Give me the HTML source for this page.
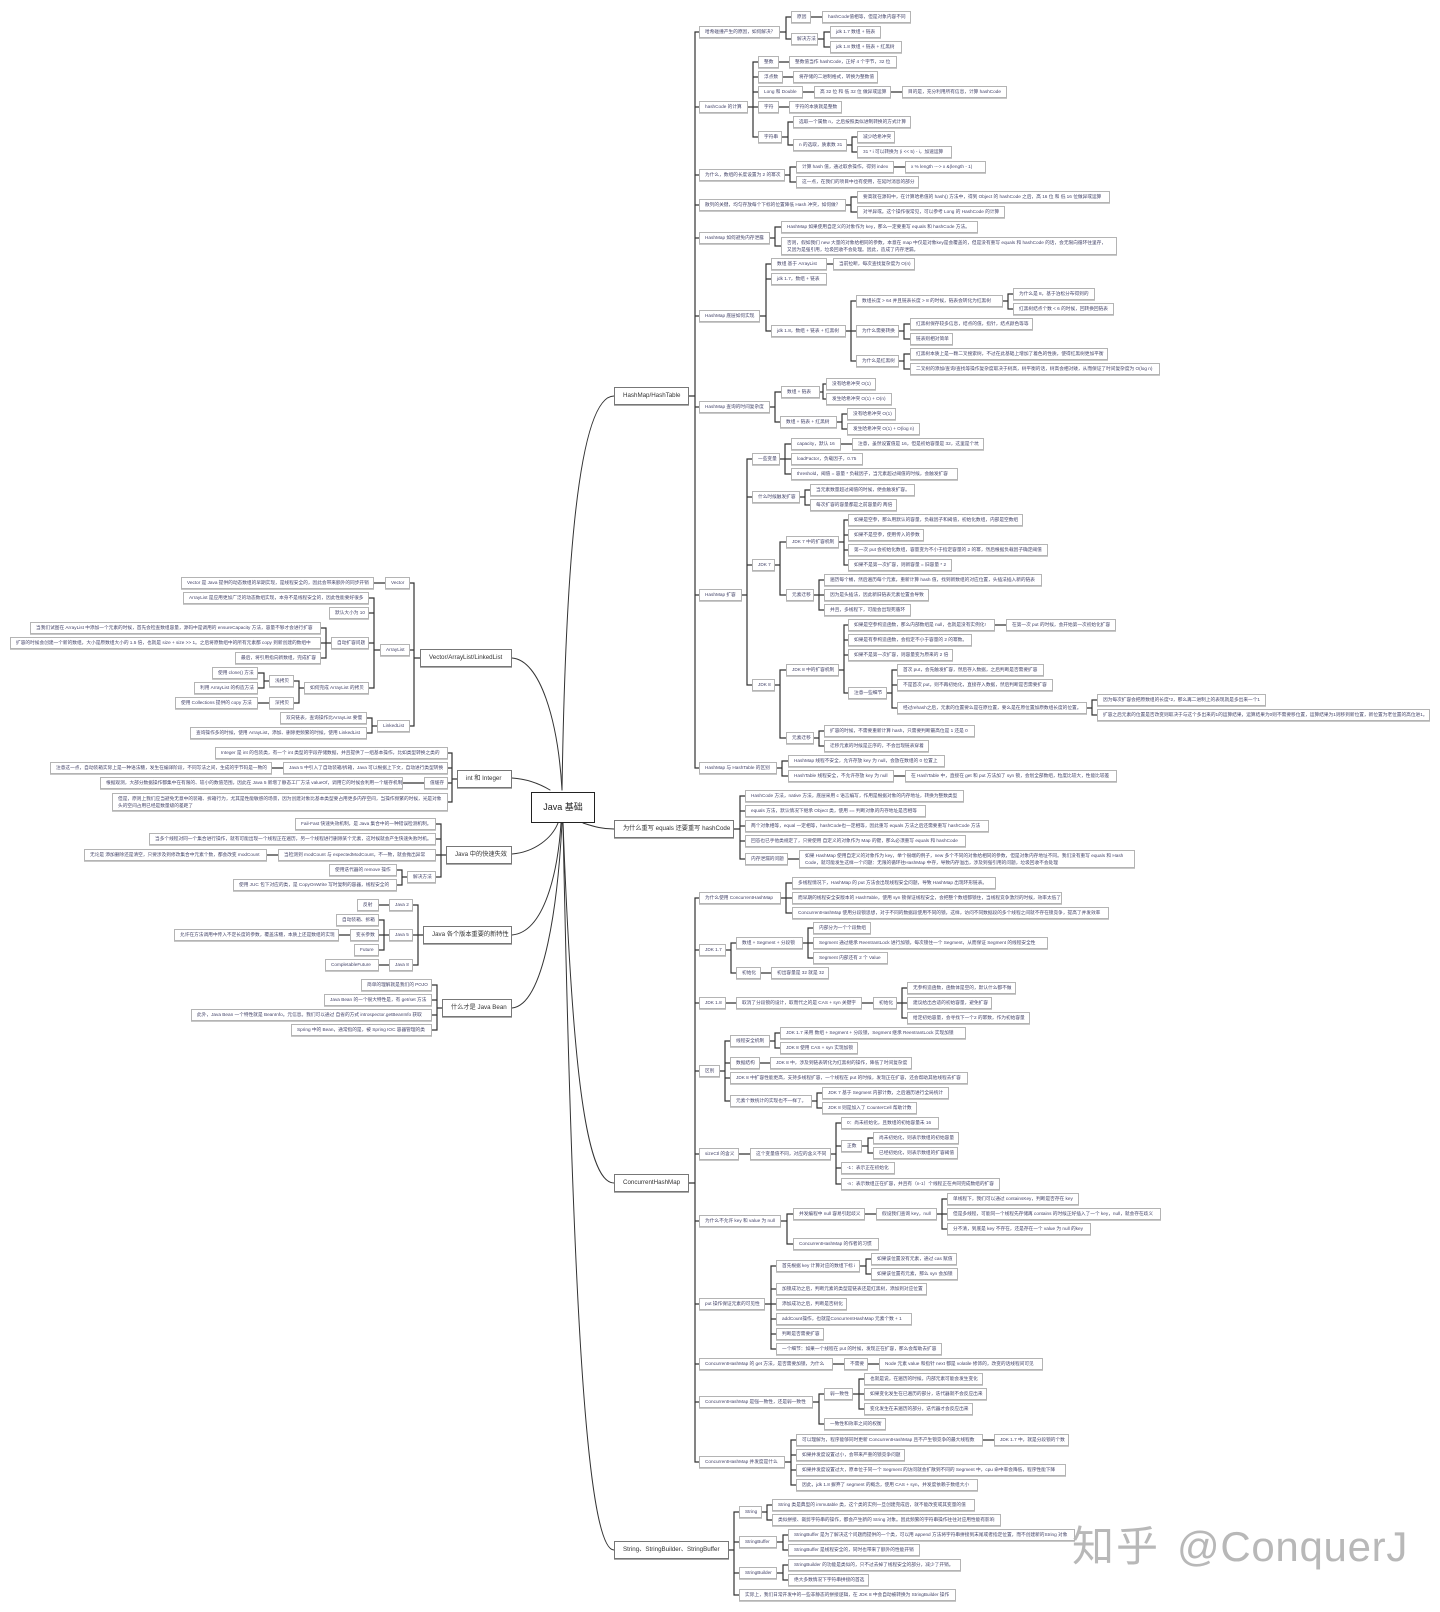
<!DOCTYPE html>
<html lang="zh"><head><meta charset="utf-8"><title>Java 基础</title>
<style>
html,body{margin:0;padding:0;background:#fff}
#w{position:relative;width:1440px;height:1612px;overflow:hidden;background:#fff;font-family:"Liberation Sans","Noto Sans CJK SC",sans-serif;filter:blur(.3px)}
svg{position:absolute;left:0;top:0}
i,b,u{position:absolute;display:block;box-sizing:border-box;background:#fff;font-style:normal;font-weight:400;text-decoration:none;white-space:nowrap;overflow:hidden}
i{height:12px;line-height:10px;font-size:4.7px;padding-left:5px;color:#45456a;border:1px solid #b4b4b4;box-shadow:0 1px 0 #c8c8c8}
i.t{height:18px;line-height:6.5px;padding-top:2px}
b{height:18px;line-height:16px;font-size:6.2px;padding-left:8px;color:#333;border:1px solid #777;box-shadow:0 1px 0 #aaa}
u{left:531px;top:792px;width:64px;height:31px;line-height:29px;font-size:9px;text-align:center;color:#222;border:1px solid #222}
.m{position:absolute;top:1519px;line-height:56px;color:#b8b8b8;white-space:nowrap}
</style></head><body><div id="w">
<svg width="1440" height="1612" fill="none" stroke-linecap="round">
<g stroke="#333" stroke-width="1">
<path d="M614 396C575 396 565 600 562 790"/>
<path d="M614 829C603 829 595 827 583 823"/>
<path d="M563 823C572 1060 585 1183 614 1183"/>
<path d="M563 823C572 1270 585 1550 614 1550"/>
<path d="M512 658C540 660 558 720 562 790"/>
<path d="M512 778C528 779 540 784 550 790"/>
<path d="M512 854C535 852 552 838 558 823"/>
<path d="M512 935C545 932 558 870 561 823"/>
<path d="M512 1008C545 1005 558 900 562 823"/>
</g>
<path stroke="#333" stroke-width="1.2" d="
M689 396H695M699 32H695V768H699M695 107h4M695 175h4M695 205h4M695 238h4M695 316h4M695 407h4M695 595h4
M780 32H786M791 17H786V39H791M818 39H824M830 32H824V47H830M811 17H822
M748 107H753M758 62H753V137H758M753 77h5M753 92h5M753 107h5M779 62H789M783 77H793M803 92H814M891 92H902M779 107H789
M782 137H788M793 122H788V145H793M847 145H852M857 137H852V152H857
M785 175H790M796 167H790V182H796M894 167H905
M846 205H851M857 197H851V212H857
M770 238H775M781 227H775V246H781
M760 316H766M771 264H766V331H771M766 279h5M827 264H833
M846 331H851M856 301H851V361H856M851 331h5
M1003 301H1008M1013 294H1008V309H1013
M899 331H904M910 324H904V339H910M899 361H904M910 354H904V369H910
M770 407H775M781 392H775V422H780M820 392H823M826 384H823V399H826M837 422H842M847 414H842V429H847
M742 595H747M752 459H747V685H752M747 497h5M747 565h5
M780 459H785M791 444H785V474H791M785 459h6M841 444H852
M800 497H805M810 490H805V505H810
M775 565H780M786 542H780V595H786
M839 542H844M848 520H844V565H848M844 535h4M844 550h4
M814 595H819M824 580H819V610H824M819 595h5
M775 685H780M786 670H780V738H786
M839 670H844M848 625H844V693H848M844 640h4M844 655h4M995 625H1006
M887 693H892M897 670H892V708H897M892 685h5
M1087 708H1092M1097 700H1092V715H1097
M814 738H819M824 731H819V746H824
M777 768H782M788 761H782V776H788M894 776H905
M734 829H740M745 796H740V859H745M740 811h5M740 826h5M740 841h5M788 859H799
M689 1183H695M699 898H695V1462H699M695 950h4M695 1003h4M695 1071h4M695 1154h4M695 1221h4M695 1304h4M695 1364h4M695 1402h4
M781 898H786M792 883H786V913H792M786 898h6
M726 950H731M736 943H731V973H736M803 943H808M813 928H808V958H813M808 943h5M761 973H771
M726 1003H736M862 1003H873M897 1003H902M907 988H902V1018H907M902 1003h5
M720 1071H725M730 1041H725V1101H730M725 1063h5M725 1078h5
M770 1041H775M780 1033H775V1048H780M760 1063H770M812 1101H817M822 1093H817V1108H822
M739 1154H750M831 1154H836M841 1123H836V1184H841M836 1146h5M836 1168h5M862 1146H868M873 1138H868V1153H873
M781 1221H787M793 1214H787V1244H793M865 1214H876M937 1214H942M947 1199H942V1229H947M942 1214h5
M765 1304H771M776 1266H771V1349H776M771 1289h5M771 1304h5M771 1319h5M771 1334h5M860 1266H866M871 1259H866V1274H871
M833 1364H844M868 1364H879
M813 1402H819M824 1394H819V1424H824M853 1394H859M864 1379H859V1409H864M859 1394h5
M785 1462H791M796 1440H791V1485H796M791 1455h5M791 1470h5M983 1440H994
M729 1550H734M739 1512H734V1595H739M734 1542h5M734 1573h5
M762 1512H767M772 1505H767V1520H772M777 1542H783M788 1535H783V1550H788M777 1573H783M788 1565H783V1580H788
M420 658H414M410 583H414V726H410M414 650h-4M385 583H374
M380 650H374M369 598H374V688H369M374 613h-5M374 643h-5
M331 643H326M321 628H326V658H321M326 643h-5
M304 688H299M294 681H299V703H294M269 681H264M258 673H264V688H258M269 703H258
M377 726H372M367 718H372V733H367
M457 779H452M448 753H452V802H448M452 768h-4M452 783h-4M283 768H272M424 783H403
M446 855H441M436 824H441V877H436M441 839h-5M441 855h-5M278 855H267M407 877H402M397 870H402V885H397
M423 935H418M413 905H418V965H413M418 935h-5M389 905H379M389 965H379M389 935H384M379 920H384V950H379M384 935h-5M350 935H339
M442 1008H437M432 985H437V1030H432M437 1000h-5M437 1015h-5"/>
</svg>

<u>Java 基础</u>
<b style="left:614px;top:387px;width:75px">HashMap/HashTable</b>
<b style="left:614px;top:820px;width:120px">为什么重写 equals 还要重写 hashCode</b>
<b style="left:614px;top:1174px;width:75px">ConcurrentHashMap</b>
<b style="left:614px;top:1541px;width:115px">String、StringBuilder、StringBuffer</b>
<b style="left:420px;top:649px;width:92px">Vector/ArrayList/LinkedList</b>
<b style="left:457px;top:770px;width:55px">int 和 Integer</b>
<b style="left:446px;top:846px;width:66px">Java 中的快速失效</b>
<b style="left:423px;top:926px;width:89px">Java 各个版本重要的新特性</b>
<b style="left:442px;top:999px;width:70px">什么才是 Java Bean</b>

<i style="left:699px;top:26px;width:81px">哈希碰撞产生的原因，如何解决？</i>
<i style="left:791px;top:11px;width:20px">原因</i>
<i style="left:822px;top:11px;width:89px">hashCode值相等，但是对象内容不同</i>
<i style="left:791px;top:33px;width:27px">解决方法</i>
<i style="left:830px;top:26px;width:51px">jdk 1.7 数组 + 链表</i>
<i style="left:830px;top:41px;width:72px">jdk 1.8 数组 + 链表 + 红黑树</i>
<i style="left:699px;top:101px;width:49px">hashCode 的计算</i>
<i style="left:758px;top:56px;width:21px">整数</i>
<i style="left:789px;top:56px;width:108px">整数值当作 hashCode，正好 4 个字节，32 位</i>
<i style="left:758px;top:71px;width:25px">浮点数</i>
<i style="left:793px;top:71px;width:85px">将存储的二进制格式，转换为整数值</i>
<i style="left:758px;top:86px;width:45px">Long 和 Double</i>
<i style="left:814px;top:86px;width:77px">高 32 位 和 低 32 位 做异或运算</i>
<i style="left:902px;top:86px;width:105px">目的是，充分利用所有信息，计算 hashCode</i>
<i style="left:758px;top:101px;width:21px">字符</i>
<i style="left:789px;top:101px;width:53px">字符的本质就是整数</i>
<i style="left:758px;top:131px;width:24px">字符串</i>
<i style="left:793px;top:116px;width:118px">选取一个属数 n，之后按照类似进制转换的方式计算</i>
<i style="left:793px;top:139px;width:54px">n 的选取，质素数 31</i>
<i style="left:857px;top:131px;width:38px">减少哈希冲突</i>
<i style="left:857px;top:146px;width:95px">31 * i 可以转换为 (i &lt;&lt; 5) - i，加速运算</i>
<i style="left:699px;top:169px;width:86px">为什么，数组的长度设置为 2 的幂次</i>
<i style="left:796px;top:161px;width:98px">计算 hash 值，通过取余操作，得到 index</i>
<i style="left:905px;top:161px;width:81px">x % length ---&gt; x &amp;(length - 1)</i>
<i style="left:796px;top:176px;width:123px">这一点，在我们的项目中也有使用，在延时消息的部分</i>
<i style="left:699px;top:199px;width:147px">散列的关键，均匀存放每个下标的位置降低 Hash 冲突，如何做？</i>
<i style="left:857px;top:191px;width:253px">要高就在源码中，在计算哈希值的 hash() 方法中，得到 Object 的 hashCode 之后，高 16 位 和 低 16 位做异或运算</i>
<i style="left:857px;top:206px;width:148px">对半异或。这个操作很常见，可以参考 Long 的 HashCode 的计算</i>
<i style="left:699px;top:232px;width:71px">HashMap 如何避免内存泄露</i>
<i style="left:781px;top:221px;width:197px">HashMap 如果使用自定义的对象作为 key，那么一定要重写 equals 和 hashCode 方法。</i>
<i class="t" style="left:781px;top:237px;width:336px">否则，假如我们 new 大量的对象给相同的参数，本意在 map 中仅是对象key是会覆盖的，但是没有重写 equals 和 hashCode 的话，会无限向循环往里存，<br>又因为是强引用，垃圾回收不会处理。因此，造成了内存泄漏。</i>
<i style="left:699px;top:310px;width:61px">HashMap 底层如何实现</i>
<i style="left:771px;top:258px;width:56px">数组 基于 ArrayList</i>
<i style="left:833px;top:258px;width:82px">当前拉断，每次查找复杂度为 O(n)</i>
<i style="left:771px;top:273px;width:56px">jdk 1.7，数组 + 链表</i>
<i style="left:771px;top:325px;width:75px">jdk 1.8，数组 + 链表 + 红黑树</i>
<i style="left:856px;top:295px;width:147px">数组长度 &gt; 64 并且链表长度 &gt; 8 的时候，链表会转化为红黑树</i>
<i style="left:1013px;top:288px;width:82px">为什么是 8，基于泊松分布得到的</i>
<i style="left:1013px;top:303px;width:101px">红黑树结点个数 &lt; 6 的时候，回转换回链表</i>
<i style="left:856px;top:325px;width:43px">为什么需要转换</i>
<i style="left:910px;top:318px;width:123px">红黑树保存较多信息，结点的值，指针，结点颜色等等</i>
<i style="left:910px;top:333px;width:43px">链表则相对简单</i>
<i style="left:856px;top:355px;width:43px">为什么是红黑树</i>
<i style="left:910px;top:348px;width:198px">红黑树本质上是一颗二叉搜索树，不过在此基础上增加了着色的性质，使得红黑树更加平衡</i>
<i style="left:910px;top:363px;width:250px">二叉树的添加/查询/查找等操作复杂度取决于树高，树平衡的话，树高会相对矮，从而保证了时间复杂度为 O(log n)</i>
<i style="left:699px;top:401px;width:71px">HashMap 查询的时间复杂度</i>
<i style="left:781px;top:386px;width:39px">数组 + 链表</i>
<i style="left:826px;top:378px;width:50px">没有哈希冲突 O(1)</i>
<i style="left:826px;top:393px;width:66px">发生哈希冲突 O(1) + O(n)</i>
<i style="left:780px;top:416px;width:57px">数组 + 链表 + 红黑树</i>
<i style="left:847px;top:408px;width:49px">没有哈希冲突 O(1)</i>
<i style="left:847px;top:423px;width:73px">发生哈希冲突 O(1) + O(log n)</i>
<i style="left:699px;top:589px;width:43px">HashMap 扩容</i>
<i style="left:752px;top:453px;width:28px">一些变量</i>
<i style="left:791px;top:438px;width:50px">capacity，默认 16</i>
<i style="left:852px;top:438px;width:132px">注意，虽然设置值是 16，但是初始容量是 32，这里是个坑</i>
<i style="left:791px;top:453px;width:72px">loadFactor，负载因子，0.75</i>
<i style="left:791px;top:468px;width:167px">threshold，阈值 = 容量 * 负载因子，当元素超过阈值的时候，会触发扩容</i>
<i style="left:752px;top:491px;width:48px">什么时候触发扩容</i>
<i style="left:810px;top:484px;width:105px">当元素数量超过阈值的时候，便会触发扩容。</i>
<i style="left:810px;top:499px;width:87px">每次扩容的容量都是之前容量的 两倍</i>
<i style="left:752px;top:559px;width:23px">JDK 7</i>
<i style="left:786px;top:536px;width:53px">JDK 7 中的扩容机制</i>
<i style="left:848px;top:514px;width:175px">如果是空参，那么用默认的容量，负载因子和阈值，初始化数组，内部是空数组</i>
<i style="left:848px;top:529px;width:76px">如果不是空参，使用传入的参数</i>
<i style="left:848px;top:544px;width:200px">第一次 put 会初始化数组，容量变为不小于指定容量的 2 的幂，然后根据负载因子确定阈值</i>
<i style="left:848px;top:559px;width:104px">如果不是第一次扩容，则新容量 = 旧容量 * 2</i>
<i style="left:786px;top:589px;width:28px">元素迁移</i>
<i style="left:824px;top:574px;width:218px">遍历每个桶，然后遍历每个元素，重新计算 hash 值，找到新数组的对应位置，头插法插入新的链表</i>
<i style="left:824px;top:589px;width:105px">因为是头插法，因此新旧链表元素位置会导致</i>
<i style="left:824px;top:604px;width:87px">并且，多线程下，可能会出现死循环</i>
<i style="left:752px;top:679px;width:23px">JDK 8</i>
<i style="left:786px;top:664px;width:53px">JDK 8 中的扩容机制</i>
<i style="left:848px;top:619px;width:147px">如果是空参构造函数，那么内部数组是 null，也就是没有实例化!</i>
<i style="left:1006px;top:619px;width:110px">在第一次 put 的时候，会开始第一次初始化扩容</i>
<i style="left:848px;top:634px;width:124px">如果是有参构造函数，会指定不小于容量的 2 的幂数。</i>
<i style="left:848px;top:649px;width:105px">如果不是第一次扩容，则容量变为原来的 2 倍</i>
<i style="left:848px;top:687px;width:39px">注意一些细节</i>
<i style="left:897px;top:664px;width:147px">首次 put，会先触发扩容，然后存入数据，之后判断是否需要扩容</i>
<i style="left:897px;top:679px;width:156px">不是首次 put，则不再初始化，直接存入数据，然后判断是否需要扩容</i>
<i style="left:897px;top:702px;width:190px">经过rehash之后，元素的位置要么是在原位置，要么是在原位置加原数组长度的位置。</i>
<i style="left:1097px;top:694px;width:169px">因为每次扩容会把原数组的长度*2，那么再二进制上的表现就是多出来一个1</i>
<i style="left:1097px;top:709px;width:333px">扩容之后元素的位置是否改变则取决于与这个多出来的1的运算结果，运算结果为0则不需要移位置，运算结果为1则移到新位置，新位置为老位置的高位进1。</i>
<i style="left:786px;top:732px;width:28px">元素迁移</i>
<i style="left:824px;top:725px;width:151px">扩容的时候，不需要重新计算 hash，只需要判断最高位是 1 还是 0</i>
<i style="left:824px;top:740px;width:105px">迁移元素的时候是正序的，不会出现链表穿着</i>
<i style="left:699px;top:762px;width:78px">HashMap 与 HashTable 的区别</i>
<i style="left:788px;top:755px;width:157px">HashMap 线程不安全，允许存放 key 为 null，会放在数组的 0 位置上</i>
<i style="left:788px;top:770px;width:106px">HashTable 线程安全，不允许存放 key 为 null</i>
<i style="left:905px;top:770px;width:212px">在 HashTable 中，直接在 get 和 put 方法加了 syn 锁，会划全部数组，粒度比较大，性能比较差</i>

<i style="left:745px;top:790px;width:219px">HashCode 方法，native 方法，底层采用 c 语言编写，作用是根据对象的内存地址，转换为整数类型</i>
<i style="left:745px;top:805px;width:181px">equals 方法，默认情况下继承 Object 类，使用 == 判断对象的内存地址是否相等</i>
<i style="left:745px;top:820px;width:244px">两个对象相等，equal 一定相等，hashCode也一定相等，因此重写 equals 方法之后还需要重写 hashCode 方法</i>
<i style="left:745px;top:835px;width:221px">回答也已手他类规定了，只要使用 自定义的对象作为 Map 的键，那么必须重写 equals 和 hashCode</i>
<i style="left:745px;top:853px;width:43px">内存泄漏的问题</i>
<i class="t" style="left:799px;top:850px;width:336px">如果 HashMap 使用自定义的对象作为 key，举个很端的例子，new 多个不同的对象给相同的参数，但是对象内存地址不同。我们没有重写 equals 和 Hash<br>Code，就可能发生这样一个问题：无限的循环往HashMap 中存，导致内存溢出，涉及到强引用的问题，垃圾回收不会处理</i>

<i style="left:699px;top:892px;width:82px">为什么使用 ConcurrentHashMap</i>
<i style="left:792px;top:877px;width:204px">多线程情况下，HashMap 的 put 方法会出现线程安全问题，导致 HashMap 出现环形链表。</i>
<i style="left:792px;top:892px;width:270px">而早期的线程安全安版本的 HashTable，使用 syn 锁保证线程安全，会把整个数组都锁住，当线程竞争激烈的时候，效率太低了</i>
<i style="left:792px;top:907px;width:317px">ConcurrentHashMap 使用分段锁思想，对于不同的数据段使用不同的锁，这样，访问不同数据段的多个线程之间就不存在锁竞争，提高了并发效率</i>
<i style="left:699px;top:944px;width:27px">JDK 1.7</i>
<i style="left:736px;top:937px;width:67px">数组 + Segment + 分段锁</i>
<i style="left:813px;top:922px;width:58px">内部分为一个个段数组</i>
<i style="left:813px;top:937px;width:235px">Segment 通过继承 ReentrantLock 进行加锁，每次锁住一个 Segment，从而保证 Segment 的线程安全性</i>
<i style="left:813px;top:952px;width:75px">Segment 内部还有 2 个 Value</i>
<i style="left:736px;top:967px;width:25px">初始化</i>
<i style="left:771px;top:967px;width:58px">初出容量是 32 就是 32</i>
<i style="left:699px;top:997px;width:27px">JDK 1.8</i>
<i style="left:736px;top:997px;width:126px">取消了分段锁的设计，取而代之的是 CAS + syn 关键字</i>
<i style="left:873px;top:997px;width:24px">初始化</i>
<i style="left:907px;top:982px;width:109px">无参构造函数，函数体是空的，默认什么都不做</i>
<i style="left:907px;top:997px;width:85px">建议给出合适的初始容量，避免扩容</i>
<i style="left:907px;top:1012px;width:123px">给定初始容量，会寻找下一个2 的幂数，作为初始容量</i>
<i style="left:699px;top:1065px;width:21px">区别</i>
<i style="left:730px;top:1035px;width:40px">线程安全机制</i>
<i style="left:780px;top:1027px;width:186px">JDK 1.7 采用 数组 + Segment + 分段锁，Segment 继承 ReentrantLock 实现加锁</i>
<i style="left:780px;top:1042px;width:78px">JDK 8 使用 CAS + syn 实现加锁</i>
<i style="left:730px;top:1057px;width:30px">数据结构</i>
<i style="left:770px;top:1057px;width:142px">JDK 8 中，涉及到链表转化为红黑树的操作，降低了时间复杂度</i>
<i style="left:730px;top:1072px;width:238px">JDK 8 中扩容性能更高，支持多线程扩容，一个线程在 put 的时候，发现正在扩容，还会帮助其他线程去扩容</i>
<i style="left:730px;top:1095px;width:82px">元素个数统计的实现也不一样了。</i>
<i style="left:822px;top:1087px;width:127px">JDK 7 基于 Segment 内部计数，之后遍历进行全局统计</i>
<i style="left:822px;top:1102px;width:95px">JDK 8 则是加入了 CounterCell 帮助计数</i>
<i style="left:699px;top:1148px;width:40px">sizeCtl 的含义</i>
<i style="left:750px;top:1148px;width:81px">这个变量值不同，对应的含义不同</i>
<i style="left:841px;top:1117px;width:98px">0：尚未初始化，且数组的初始容量未 16</i>
<i style="left:841px;top:1140px;width:21px">正数</i>
<i style="left:873px;top:1132px;width:86px">尚未初始化，则表示数组的初始容量</i>
<i style="left:873px;top:1147px;width:85px">已经初始化，则表示数组的扩容阈值</i>
<i style="left:841px;top:1162px;width:54px">-1：表示正在初始化</i>
<i style="left:841px;top:1178px;width:159px">-n：表示数组正在扩容，并且有（n-1）个线程正在共同完成数组的扩容</i>
<i style="left:699px;top:1215px;width:82px">为什么不允许 key 和 value 为 null</i>
<i style="left:793px;top:1208px;width:72px">并发编程中 null 容易引起歧义</i>
<i style="left:876px;top:1208px;width:61px">假设我们查询 key，null</i>
<i style="left:947px;top:1193px;width:132px">单线程下，我们可以通过 containsKey，判断是否存在 key</i>
<i style="left:947px;top:1208px;width:214px">但是多线程，可能同一个线程先存储再 contains 的时候正好插入了一个 key，null，就会存在歧义</i>
<i style="left:947px;top:1223px;width:144px">分不清，到底是 key 不存在，还是存在一个 value 为 null 的key</i>
<i style="left:793px;top:1238px;width:86px">ConcurrentHashMap 的作者的习惯</i>
<i style="left:699px;top:1298px;width:66px">put 操作保证元素的可见性</i>
<i style="left:776px;top:1260px;width:84px">首先根据 key 计算对应的数组下标 i</i>
<i style="left:871px;top:1253px;width:86px">如果该位置没有元素，通过 cas 赋值</i>
<i style="left:871px;top:1268px;width:87px">如果该位置有元素，那么 syn 会加锁</i>
<i style="left:776px;top:1283px;width:151px">加锁成功之后，判断元素的类型是链表还是红黑树，添加到对应位置</i>
<i style="left:776px;top:1298px;width:71px">添加成功之后，判断是否树化</i>
<i style="left:776px;top:1313px;width:136px">addCount操作，也就是ConcurrentHashMap 元素个数 + 1</i>
<i style="left:776px;top:1328px;width:48px">判断是否需要扩容</i>
<i style="left:776px;top:1343px;width:166px">一个细节：如果一个线程在 put 的时候，发现正在扩容，那么会帮助去扩容</i>
<i style="left:699px;top:1358px;width:134px">ConcurrentHashMap 的 get 方法，是否需要加锁，为什么</i>
<i style="left:844px;top:1358px;width:24px">不需要</i>
<i style="left:879px;top:1358px;width:164px">Node 元素 value 和指针 next 都是 volatile 修饰的，改变的话线程间可见</i>
<i style="left:699px;top:1396px;width:114px">ConcurrentHashMap 是强一致性，还是弱一致性</i>
<i style="left:824px;top:1388px;width:29px">弱一致性</i>
<i style="left:864px;top:1373px;width:119px">也就是说，在遍历的时候，内部元素可能会发生变化</i>
<i style="left:864px;top:1388px;width:123px">如果变化发生在已遍历的部分，迭代器就不会反应出来</i>
<i style="left:864px;top:1403px;width:109px">变化发生在未遍历的部分，迭代器才会反应出来</i>
<i style="left:824px;top:1418px;width:62px">一致性和效率之间的权衡</i>
<i style="left:699px;top:1456px;width:86px">ConcurrentHashMap 并发度是什么</i>
<i style="left:796px;top:1434px;width:187px">可以理解为，程序能够同时更新 ConcurrentHashMap 且不产生锁竞争的最大线程数</i>
<i style="left:994px;top:1434px;width:75px">JDK 1.7 中，就是分段锁的个数</i>
<i style="left:796px;top:1449px;width:109px">如果并发度设置过小，会带来严重的锁竞争问题</i>
<i style="left:796px;top:1464px;width:270px">如果并发度设置过大，原本位于同一个 Segment 的访问就会扩散到不同的 Segment 中，cpu 命中率会降低，程序性能下降</i>
<i style="left:796px;top:1479px;width:182px">因此，jdk 1.8 摒弃了 segment 的概念，使用 CAS + syn，并发度依赖于数组大小</i>

<i style="left:739px;top:1506px;width:23px">String</i>
<i style="left:772px;top:1499px;width:203px">String 类是典型的 immutable 类，这个类的实例一旦创建完成后，就不能改变或其变量的值</i>
<i style="left:772px;top:1514px;width:229px">类似拼接、裁剪字符串的操作，都会产生新的 String 对象。因此频繁的字符串操作往往对应用性能有影响</i>
<i style="left:739px;top:1536px;width:38px">StringBuffer</i>
<i style="left:788px;top:1529px;width:287px">StringBuffer 是为了解决这个问题而提供的一个类，可以用 append 方法将字符串拼接到末尾或者指定位置，而不创建新的String 对象</i>
<i style="left:788px;top:1544px;width:132px">StringBuffer 是线程安全的，同时也带来了额外的性能开销</i>
<i style="left:739px;top:1567px;width:38px">StringBuilder</i>
<i style="left:788px;top:1559px;width:173px">StringBuilder 的功能是类似的，只不过去掉了线程安全的部分，减少了开销。</i>
<i style="left:788px;top:1574px;width:81px">绝大多数情况下字符串拼接的首选</i>
<i style="left:739px;top:1589px;width:217px">实际上，我们日常开发中的一些非静态的拼接逻辑，在 JDK 8 中会自动被转换为 StringBuilder 操作</i>

<i style="left:385px;top:577px;width:25px">Vector</i>
<i style="left:181px;top:577px;width:193px">Vector 是 Java 提供的动态数组的早期实现，是线程安全的，因此会带来额外的同步开销</i>
<i style="left:380px;top:644px;width:30px">ArrayList</i>
<i style="left:183px;top:592px;width:186px">ArrayList 是应用更加广泛的动态数组实现，本身不是线程安全的，因此性能要好很多</i>
<i style="left:329px;top:607px;width:40px">默认大小为 10</i>
<i style="left:331px;top:637px;width:38px">自动扩容问题</i>
<i style="left:30px;top:622px;width:291px">当我们试图在 ArrayList 中添加一个元素的时候，首先会检查数组容量，源码中是调用的 ensureCapacity 方法，容量不够才会进行扩容</i>
<i style="left:10px;top:637px;width:311px">扩容的时候会创建一个新的数组，大小是原数组大小的 1.5 倍，也就是 size + size &gt;&gt; 1。之后将原数组中的所有元素都 copy 到新创建的数组中</i>
<i style="left:235px;top:652px;width:86px">最后，将引用指向新数组，完成扩容</i>
<i style="left:304px;top:682px;width:65px">如何完成 ArrayList 的拷贝</i>
<i style="left:269px;top:675px;width:25px">浅拷贝</i>
<i style="left:212px;top:667px;width:46px">使用 clone() 方法</i>
<i style="left:194px;top:682px;width:64px">利用 ArrayList 的构造方法</i>
<i style="left:269px;top:697px;width:25px">深拷贝</i>
<i style="left:175px;top:697px;width:83px">使用 Collections 提供的 copy 方法</i>
<i style="left:377px;top:720px;width:33px">LinkedList</i>
<i style="left:280px;top:712px;width:87px">双向链表，查询操作比ArrayList 要慢</i>
<i style="left:190px;top:727px;width:177px">查询操作多的时候，使用 ArrayList，添加、删除更频繁的时候，使用 LinkedList</i>
<i style="left:215px;top:747px;width:233px">Integer 是 int 的包装类，有一个 int 类型的字段存储数据，并且提供了一组基本操作，比如类型转换之类的</i>
<i style="left:283px;top:762px;width:165px">Java 5 中引入了自动装箱/拆箱，Java 可以根据上下文，自动进行类型转换</i>
<i style="left:50px;top:762px;width:222px">注意这一点，自动装箱实际上是一种语法糖，发生在编译阶段，不同写法之间，生成的字节码是一致的</i>
<i style="left:424px;top:777px;width:24px">值缓存</i>
<i style="left:100px;top:777px;width:303px">根据观测，大部分数据操作都集中在有限的、较小的数值范围，因此在 Java 5 新增了静态工厂方法 valueOf，调用它的时候会利用一个缓存机制。</i>
<i class="t" style="left:112px;top:793px;width:336px">但是，原则上我们应当避免无意中的装箱、拆箱行为，尤其是性能敏感的场景，因为创建对象比基本类型要占用更多内存空间，当操作频繁的时候，光是对象<br>头的空间占用已经是数量级的差距了</i>
<i style="left:295px;top:818px;width:141px">Fail-Fast 快速失效机制，是 Java 集合中的一种错误检测机制。</i>
<i style="left:149px;top:833px;width:287px">当多个线程对同一个集合进行操作，就有可能出现一个线程正在遍历，另一个线程进行删除某个元素，这时候就会产生快速失败时机。</i>
<i style="left:278px;top:849px;width:158px">当检测到 modCount 与 expectedModCount，不一致，就会抛出异常</i>
<i style="left:84px;top:849px;width:183px">无论是 添加删除还是清空，只要涉及到修改集合中元素个数，都会改变 modCount</i>
<i style="left:407px;top:871px;width:29px">解决方法</i>
<i style="left:329px;top:864px;width:68px">使用迭代器的 remove 操作</i>
<i style="left:233px;top:879px;width:164px">使用 JUC 包下对应的类，是 CopyOnWrite 写时复制的容器，线程安全的</i>
<i style="left:389px;top:899px;width:24px">Java 2</i>
<i style="left:357px;top:899px;width:22px">反射</i>
<i style="left:389px;top:929px;width:24px">Java 5</i>
<i style="left:336px;top:914px;width:43px">自动装箱、拆箱</i>
<i style="left:350px;top:929px;width:29px">变长参数</i>
<i style="left:174px;top:929px;width:165px">允许在方法调用中传入不定长度的参数，覆盖法糖，本质上还是数组的实现</i>
<i style="left:354px;top:944px;width:25px">Future</i>
<i style="left:389px;top:959px;width:24px">Java 8</i>
<i style="left:325px;top:959px;width:54px">CompletableFuture</i>
<i style="left:361px;top:979px;width:71px">简单的理解就是我们的 POJO</i>
<i style="left:324px;top:994px;width:108px">Java Bean 的一个很大特性是，有 get/set 方法</i>
<i style="left:191px;top:1009px;width:241px">此外，Java Bean 一个特性就是 BeanInfo。元信息。我们可以通过 自省的方式 introspector.getBeanInfo 获取</i>
<i style="left:291px;top:1024px;width:141px">Spring 中的 Bean，通常指的是，被 Spring IOC 容器管理的类</i>
<div class="m" style="left:1072px;font-size:42px;letter-spacing:2px">知乎</div>
<div class="m" style="left:1177px;font-size:42px;letter-spacing:.7px">@ConquerJ</div>
</div></body></html>
